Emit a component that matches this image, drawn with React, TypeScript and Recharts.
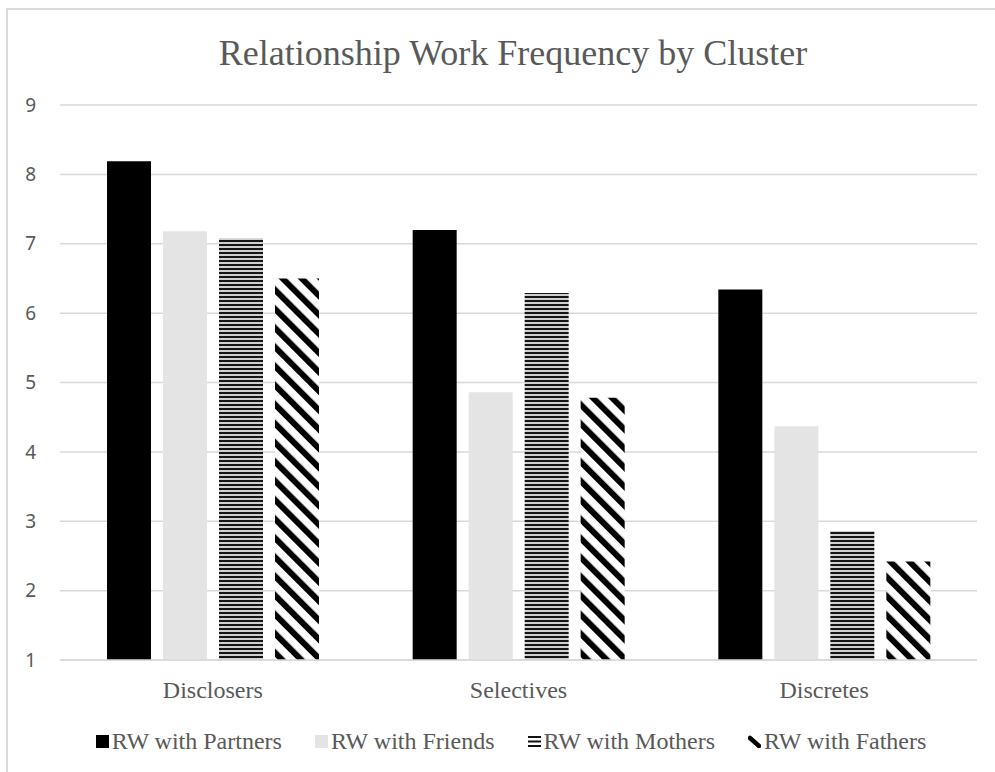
import React from 'react';
import { BarChart, Bar, XAxis, YAxis, CartesianGrid } from 'recharts';

const clusters = ['Disclosers', 'Selectives', 'Discretes'];
const partners = [8.19, 7.2, 6.34];
const friends = [7.18, 4.86, 4.37];
const mothers = [7.08, 6.29, 2.86];
const fathers = [6.5, 4.78, 2.42];
const yTicks = [1, 2, 3, 4, 5, 6, 7, 8, 9];

const data = clusters.map((name, i) => ({
  name,
  partners: partners[i],
  friends: friends[i],
  mothers: mothers[i],
  fathers: fathers[i],
}));

const serif = '"Liberation Serif", "Times New Roman", serif';
const textColor = '#595959';
const gridColor = '#d9d9d9';

const legendItems = [
  { key: 'partners', label: 'RW with Partners' },
  { key: 'friends', label: 'RW with Friends' },
  { key: 'mothers', label: 'RW with Mothers' },
  { key: 'fathers', label: 'RW with Fathers' },
];

const LegendMarker: React.FC<{ kind: string }> = ({ kind }) => (
  <svg width={13} height={13} style={{ marginRight: 3, display: 'block' }}>
    {kind === 'partners' && <rect x={0} y={0} width={13} height={13} fill="#000" />}
    {kind === 'friends' && <rect x={0} y={0} width={13} height={13} fill="#e4e4e4" />}
    {kind === 'mothers' && (
      <g fill="#111">
        <rect x={0} y={1} width={13} height={2} />
        <rect x={0} y={5.5} width={13} height={2} />
        <rect x={0} y={10} width={13} height={2} />
      </g>
    )}
    {kind === 'fathers' && (
      <line x1={2} y1={3} x2={11} y2={11} stroke="#000" strokeWidth={4.5} strokeLinecap="round" />
    )}
  </svg>
);

export default function App() {
  return (
    <div style={{ position: 'absolute', left: 0, top: 0, width: 995, height: 772, background: '#fff', overflow: 'hidden' }}>
      <div
        style={{
          position: 'absolute',
          left: 6,
          top: 8,
          width: 1000,
          height: 800,
          borderLeft: `2px solid ${gridColor}`,
          borderTop: `2px solid ${gridColor}`,
        }}
      />
      <div
        style={{
          position: 'absolute',
          left: 0,
          width: 1026,
          top: 31,
          textAlign: 'center',
          fontFamily: serif,
          fontSize: 36,
          color: textColor,
          lineHeight: '44px',
        }}
      >
        Relationship Work Frequency by Cluster
      </div>
      <div style={{ position: 'absolute', left: 0, top: 0 }}>
        <BarChart
          width={995}
          height={772}
          data={data}
          margin={{ top: 105, right: 18, bottom: 82, left: 0 }}
          barSize={44}
          barGap={12}
        >
          <defs>
            <pattern id="mothersPattern" width={8} height={4} patternUnits="userSpaceOnUse">
              <rect x={0} y={0} width={8} height={4} fill="#cfcfcf" />
              <rect x={0} y={0} width={8} height={2} fill="#151515" />
            </pattern>
            <pattern
              id="fathersPattern"
              width={13.5}
              height={13.5}
              patternUnits="userSpaceOnUse"
              patternTransform="rotate(-45)"
            >
              <rect x={0} y={0} width={13.5} height={13.5} fill="#fff" />
              <rect x={0} y={0} width={6} height={13.5} fill="#000" />
            </pattern>
          </defs>
          <CartesianGrid vertical={false} stroke={gridColor} strokeWidth={1.5} />
          <XAxis
            dataKey="name"
            tickLine={false}
            tickSize={0}
            tickMargin={21}
            axisLine={{ stroke: gridColor, strokeWidth: 1.5 }}
            tick={{ fontFamily: serif, fontSize: 24, fill: textColor }}
          />
          <YAxis
            width={60}
            domain={[1, 9]}
            ticks={yTicks}
            interval={0}
            axisLine={false}
            tickLine={false}
            tickSize={0}
            tickMargin={24}
            tick={{ fontFamily: '"Noto Sans", sans-serif', fontSize: 19, fill: textColor }}
          />
          <Bar dataKey="partners" fill="#000000" isAnimationActive={false} />
          <Bar dataKey="friends" fill="#e4e4e4" isAnimationActive={false} />
          <Bar dataKey="mothers" fill="url(#mothersPattern)" isAnimationActive={false} />
          <Bar dataKey="fathers" fill="url(#fathersPattern)" isAnimationActive={false} />
        </BarChart>
      </div>
      <div
        style={{
          position: 'absolute',
          left: 0,
          width: 1022,
          top: 726,
          display: 'flex',
          justifyContent: 'center',
          alignItems: 'center',
          gap: 33,
          fontFamily: serif,
          fontSize: 24,
          color: textColor,
          lineHeight: '30px',
        }}
      >
        {legendItems.map((item) => (
          <div key={item.key} style={{ display: 'flex', alignItems: 'center' }}>
            <LegendMarker kind={item.key} />
            <span>{item.label}</span>
          </div>
        ))}
      </div>
    </div>
  );
}
